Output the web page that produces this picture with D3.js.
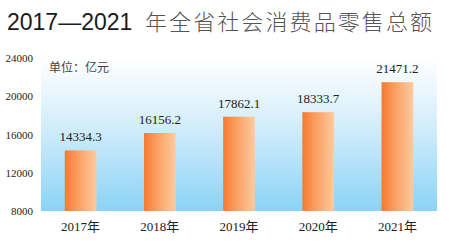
<!DOCTYPE html>
<html>
<head>
<meta charset="utf-8">
<script src="https://cdn.jsdelivr.net/npm/d3@7"></script>
<style>
  html, body { margin: 0; padding: 0; background: #fff; }
  svg { display: block; }
</style>
</head>
<body>
<div id="chart"></div>
<script>
const years = ["2017年", "2018年", "2019年", "2020年", "2021年"];
const sales = [14334.3, 16156.2, 17862.1, 18333.7, 21471.2];
const yTicks = [8000, 12000, 16000, 20000, 24000];

const width = 453, height = 250;
const margins = {top: 58, left: 41, right: 16, bottom: 39};

const svg = d3.select("#chart").append("svg")
    .attr("width", width)
    .attr("height", height);

const defs = svg.append("defs");
const bg = defs.append("linearGradient").attr("id", "bg")
    .attr("x1", 0).attr("y1", 0).attr("x2", 0).attr("y2", 1);
bg.append("stop").attr("offset", "0%").attr("stop-color", "#ffffff");
bg.append("stop").attr("offset", "45%").attr("stop-color", "#d2edfa");
bg.append("stop").attr("offset", "100%").attr("stop-color", "#8bd3f6");

const barGrad = defs.append("linearGradient").attr("id", "bar")
    .attr("x1", 0).attr("y1", 0).attr("x2", 1).attr("y2", 0);
barGrad.append("stop").attr("offset", "0%").attr("stop-color", "#f6792f");
barGrad.append("stop").attr("offset", "35%").attr("stop-color", "#fa9a5a");
barGrad.append("stop").attr("offset", "100%").attr("stop-color", "#fdcba0");

const bodyW = width - margins.left - margins.right;
const bodyH = height - margins.top - margins.bottom;

const x = d3.scaleBand().domain(years).range([0, bodyW]).paddingInner(0.6).paddingOuter(0.3);
const y = d3.scaleLinear().domain([8000, 24000]).range([bodyH, 0]);

// 标题
svg.append("text")
    .attr("x", 7).attr("y", 30)
    .style("font-family", "'Liberation Sans', Arial, sans-serif")
    .style("font-size", "23px")
    .attr("fill", "#1a1a1a")
    .text("2017—2021");
svg.append("text")
    .attr("x", 145).attr("y", 30)
    .attr("textLength", 287)
    .attr("lengthAdjust", "spacing")
    .style("font-family", "'Noto Sans CJK SC', sans-serif")
    .style("font-size", "22px")
    .style("font-weight", 300)
    .attr("fill", "#555")
    .text("年全省社会消费品零售总额");

const body = svg.append("g")
    .attr("transform", `translate(${margins.left},${margins.top})`);

body.append("rect")
    .attr("x", 0).attr("y", 0)
    .attr("width", bodyW).attr("height", bodyH)
    .attr("fill", "url(#bg)");

// y轴刻度
const yAxis = body.append("g")
    .call(d3.axisLeft(y).tickValues(yTicks).tickSize(0).tickPadding(8).tickFormat(d3.format("d")));
yAxis.select(".domain").remove();
yAxis.selectAll("text")
    .style("font-family", "'Liberation Serif', 'Times New Roman', serif")
    .style("font-size", "11px")
    .attr("fill", "#222");

// x轴刻度
const xAxis = body.append("g")
    .attr("transform", `translate(0,${bodyH})`)
    .call(d3.axisBottom(x).tickSize(0).tickPadding(11));
xAxis.select(".domain").remove();
xAxis.selectAll("text")
    .style("font-family", "'Liberation Serif', 'Noto Sans CJK SC', serif")
    .style("font-size", "13px")
    .attr("fill", "#222");

// 柱子
body.selectAll(".bar")
    .data(sales)
    .join("rect")
    .attr("class", "bar")
    .attr("x", (d, i) => x(years[i]))
    .attr("y", d => y(d))
    .attr("width", x.bandwidth())
    .attr("height", d => bodyH - y(d))
    .attr("fill", "url(#bar)");

// 数值标签
body.selectAll(".val")
    .data(sales)
    .join("text")
    .attr("class", "val")
    .attr("x", (d, i) => x(years[i]) + x.bandwidth() / 2)
    .attr("y", d => y(d) - 9)
    .attr("text-anchor", "middle")
    .style("font-family", "'Liberation Serif', 'Times New Roman', serif")
    .style("font-size", "13px")
    .attr("fill", "#222")
    .text(d => d3.format(".1f")(d));

// 单位
body.append("text")
    .attr("x", 8).attr("y", 14)
    .style("font-family", "'Noto Sans CJK SC', sans-serif")
    .style("font-size", "12px")
    .attr("fill", "#444")
    .text("单位：亿元");
</script>
</body>
</html>
